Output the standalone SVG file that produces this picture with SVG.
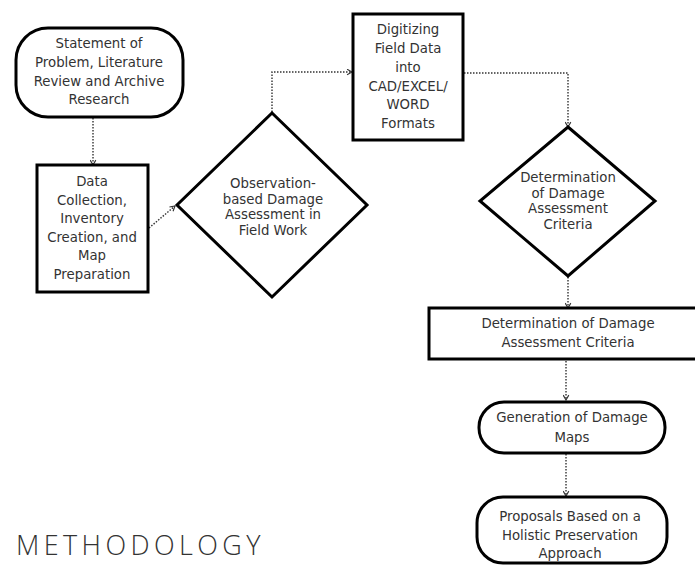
<svg xmlns="http://www.w3.org/2000/svg" width="695" height="565" viewBox="0 0 695 565">
<defs>
<style>
.shape{fill:#fff;stroke:#000;stroke-width:3}
.t{font-family:"DejaVu Sans","Liberation Sans",sans-serif;font-size:13.3px;fill:#333;text-anchor:middle}
.conn{fill:none;stroke:#333;stroke-width:1.4;stroke-dasharray:1.5 1.5}
.title{font-family:"Open Sans","Liberation Sans",sans-serif;font-size:27px;font-weight:300;fill:#333;letter-spacing:4.4px}
</style>
<marker id="arr" viewBox="0 0 10 10" refX="9" refY="5" markerWidth="7" markerHeight="7" markerUnits="userSpaceOnUse" orient="auto">
<path d="M2,1 L9,5 L2,9" fill="none" stroke="#333" stroke-width="1.6"/>
</marker>
</defs>
<rect width="695" height="565" fill="#fff"/>
<g id="connectors">
<path class="conn" d="M93,118 V165" marker-end="url(#arr)"/>
<path class="conn" d="M149,228 L175,206" marker-end="url(#arr)"/>
<path class="conn" d="M272,112 V72 H352" marker-end="url(#arr)"/>
<path class="conn" d="M464,73 H568 V127" marker-end="url(#arr)"/>
<path class="conn" d="M568,277 V308" marker-end="url(#arr)"/>
<path class="conn" d="M566,361 V400" marker-end="url(#arr)"/>
<path class="conn" d="M566,454 V496" marker-end="url(#arr)"/>
</g>
<g id="n1">
<rect class="shape" x="16" y="28" width="167" height="89" rx="32" ry="32"/>
<text class="t" x="99" y="48">Statement of</text>
<text class="t" x="99" y="67">Problem, Literature</text>
<text class="t" x="99" y="86">Review and Archive</text>
<text class="t" x="99" y="104">Research</text>
</g>
<g id="n2">
<rect class="shape" x="37" y="165" width="111" height="127"/>
<text class="t" x="92" y="186">Data</text>
<text class="t" x="92" y="205">Collection,</text>
<text class="t" x="92" y="223">Inventory</text>
<text class="t" x="92" y="242">Creation, and</text>
<text class="t" x="92" y="260">Map</text>
<text class="t" x="92" y="279">Preparation</text>
</g>
<g id="n3">
<polygon class="shape" points="272,113 367,205 272,297 177,205"/>
<text class="t" x="273" y="188">Observation-</text>
<text class="t" x="273" y="203.5">based Damage</text>
<text class="t" x="273" y="219">Assessment in</text>
<text class="t" x="273" y="234.5">Field Work</text>
</g>
<g id="n4">
<rect class="shape" x="353" y="14" width="110" height="126"/>
<text class="t" x="408" y="34">Digitizing</text>
<text class="t" x="408" y="53">Field Data</text>
<text class="t" x="408" y="72">into</text>
<text class="t" x="408" y="91">CAD/EXCEL/</text>
<text class="t" x="408" y="109">WORD</text>
<text class="t" x="408" y="128">Formats</text>
</g>
<g id="n5">
<polygon class="shape" points="568,127 655,201 568,276 480,201"/>
<text class="t" x="568" y="182">Determination</text>
<text class="t" x="568" y="197.5">of Damage</text>
<text class="t" x="568" y="213">Assessment</text>
<text class="t" x="568" y="228.5">Criteria</text>
</g>
<g id="n6">
<rect class="shape" x="429" y="308" width="275" height="51"/>
<text class="t" x="568" y="328">Determination of Damage</text>
<text class="t" x="568" y="347">Assessment Criteria</text>
</g>
<g id="n7">
<rect class="shape" x="479" y="402" width="186" height="51" rx="25" ry="25"/>
<text class="t" x="572" y="422">Generation of Damage</text>
<text class="t" x="572" y="442">Maps</text>
</g>
<g id="n8">
<rect class="shape" x="477" y="497" width="190" height="66" rx="26" ry="26"/>
<text class="t" x="570" y="521">Proposals Based on a</text>
<text class="t" x="570" y="540">Holistic Preservation</text>
<text class="t" x="570" y="558">Approach</text>
</g>
<text class="title" x="16" y="555">METHODOLOGY</text>
</svg>
